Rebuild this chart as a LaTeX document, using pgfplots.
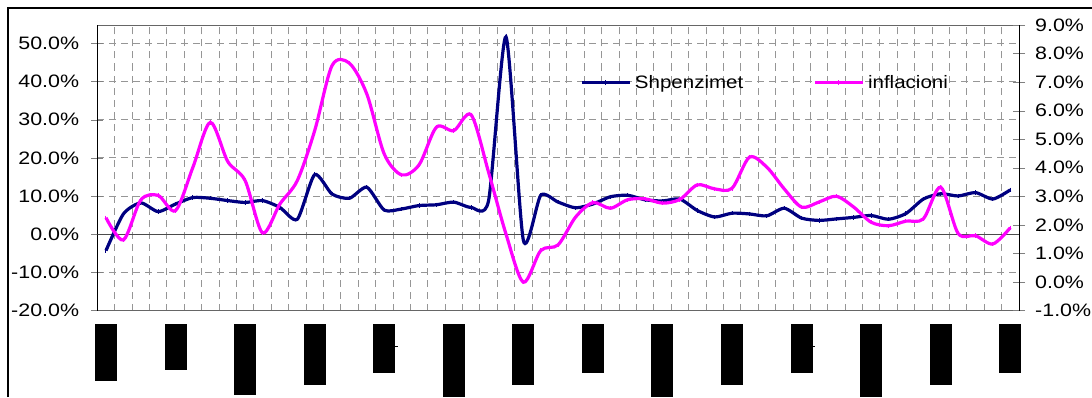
\documentclass[border=0pt]{standalone}
\usepackage{fontspec}
\setmainfont{Liberation Sans}[FakeStretch=1.14]
\newfontfamily\tickfont{Liberation Sans}[FakeStretch=1.19]
\usepackage{pgfplots}
\usepackage{pgfplotstable}
\pgfplotsset{compat=1.18}

\definecolor{spend}{RGB}{0,0,128}
\definecolor{infl}{RGB}{255,0,255}
\definecolor{gridgray}{RGB}{150,150,150}

% Shpenzimet (left axis, %)
\pgfplotstableread{
i v
0 -4.3
1 5.3
2 8.2
3 5.9
4 7.9
5 9.6
6 9.4
7 8.8
8 8.3
9 8.8
10 7.0
11 3.9
12 15.6
13 10.5
14 9.4
15 12.3
16 6.3
17 6.6
18 7.5
19 7.7
20 8.4
21 7.0
22 8.8
23 51.7
24 -1.6
25 10.2
26 8.4
27 6.9
28 7.9
29 9.8
30 10.2
31 9.0
32 8.7
33 9.2
34 6.2
35 4.5
36 5.5
37 5.3
38 4.8
39 6.8
40 4.2
41 3.6
42 4.0
43 4.4
44 4.9
45 3.9
46 5.4
47 9.2
48 10.6
49 10.0
50 10.9
51 9.2
52 11.6
}\spending

% inflacioni (right axis, %)
\pgfplotstableread{
i v
0 2.25
1 1.47
2 2.87
3 3.03
4 2.50
5 4.02
6 5.59
7 4.22
8 3.55
9 1.72
10 2.73
11 3.55
12 5.30
13 7.58
14 7.66
15 6.58
16 4.48
17 3.75
18 4.10
19 5.42
20 5.30
21 5.85
22 3.84
23 1.68
24 -0.01
25 1.10
26 1.30
27 2.27
28 2.78
29 2.58
30 2.88
31 2.91
32 2.76
33 2.89
34 3.40
35 3.26
36 3.28
37 4.37
38 4.02
39 3.26
40 2.62
41 2.80
42 3.00
43 2.62
44 2.09
45 1.97
46 2.13
47 2.21
48 3.32
49 1.70
50 1.62
51 1.33
52 1.90
}\inflation

\pgfplotsset{
  chartbase/.style={
    at={(97.3pt,86.5pt)}, anchor=south west,
    scale only axis, width=921.7pt, height=285.5pt,
    xmin=-0.5, xmax=52.5,
    major tick length=12pt, tick align=center,
    every tick label/.append style={font=\tickfont\fontsize{18}{21}\selectfont},
  },
  spendline/.style={spend, line width=3.2pt, smooth, tension=0.4, mark=|, mark size=2.2pt,
    mark options={solid, line width=1pt}},
  inflline/.style={infl, line width=3.2pt, smooth, tension=0.5, mark=|, mark size=2.2pt,
    mark options={solid, line width=1pt}},
}

\begin{document}
\begin{tikzpicture}
\useasboundingbox (0pt,0pt) rectangle (1092pt,397pt);
% chart frame (its right and bottom sides lie outside the picture)
\draw[line width=2pt] (8pt,0pt) -- (8pt,388.5pt) -- (1092pt,388.5pt);

\begin{axis}[chartbase,
  ymin=-20, ymax=54.8,
  ytick={-20,-10,...,50},
  yticklabels={-20.0\%,-10.0\%,0.0\%,10.0\%,20.0\%,30.0\%,40.0\%,50.0\%},
  ytick pos=left,
  yticklabel style={anchor=east, inner sep=0pt, xshift=-12pt},
  xtick={0,4,...,52},
  xtick pos=bottom,
  xticklabels={
    \rule{22pt}{57pt}, \rule{22pt}{46pt}, \rule{22pt}{71pt}, \rule{22pt}{61pt},
    \rule{22pt}{49pt}\rlap{\rule[25.7pt]{2.5pt}{1.2pt}}, \rule{22pt}{73pt}, \rule{22pt}{61pt}, \rule{22pt}{49pt},
    \rule{22pt}{73pt}, \rule{22pt}{61pt}, \rule{22pt}{49pt}\rlap{\rule[25.7pt]{2.5pt}{1.2pt}}, \rule{22pt}{73pt},
    \rule{22pt}{61pt}, \rule{22pt}{49pt}},
  xtick style={draw=none},
  xticklabel style={anchor=north, inner sep=0pt, yshift=-7pt},
  minor xtick={0.5,1.5,...,51.5},
  minor tick length=0pt,
  xminorgrids, ymajorgrids,
  grid style={gridgray, line width=0.8pt, dash pattern=on 7pt off 5pt},
  separate axis lines,
  every outer x axis line/.append style={black!60, line width=0.9pt},
  every outer y axis line/.append style={black, line width=1pt},
]
\draw[black!70, line width=1pt] (axis cs:-0.5,0) -- (axis cs:52.5,0);
\addplot[spendline] table[x=i, y=v] {\spending};
\end{axis}

\begin{axis}[chartbase,
  axis x line=none, axis y line*=right,
  ymin=-1, ymax=9,
  ytick={-1,0,...,9},
  yticklabels={-1.0\%,0.0\%,1.0\%,2.0\%,3.0\%,4.0\%,5.0\%,6.0\%,7.0\%,8.0\%,9.0\%},
  yticklabel style={anchor=west, inner sep=0pt, xshift=10pt},
  y axis line style={black, line width=1pt},
  legend columns=2,
  legend style={at={(0.5238,0.798)}, anchor=west, draw=none, fill=none,
    inner sep=0pt, nodes={inner sep=0pt},
    font=\fontsize{18}{21}\selectfont,
    /tikz/every odd column/.append style={column sep=3.5pt},
    /tikz/every even column/.append style={column sep=70pt}},
  legend image code/.code={
    \draw[mark repeat=2, mark phase=2, #1] plot coordinates {(0pt,0pt) (24pt,0pt) (48pt,0pt)};},
]
\addlegendimage{spendline}
\addlegendentry{Shpenzimet}
\addplot[inflline] table[x=i, y=v] {\inflation};
\addlegendentry{inflacioni}
\end{axis}
\end{tikzpicture}
\end{document}
